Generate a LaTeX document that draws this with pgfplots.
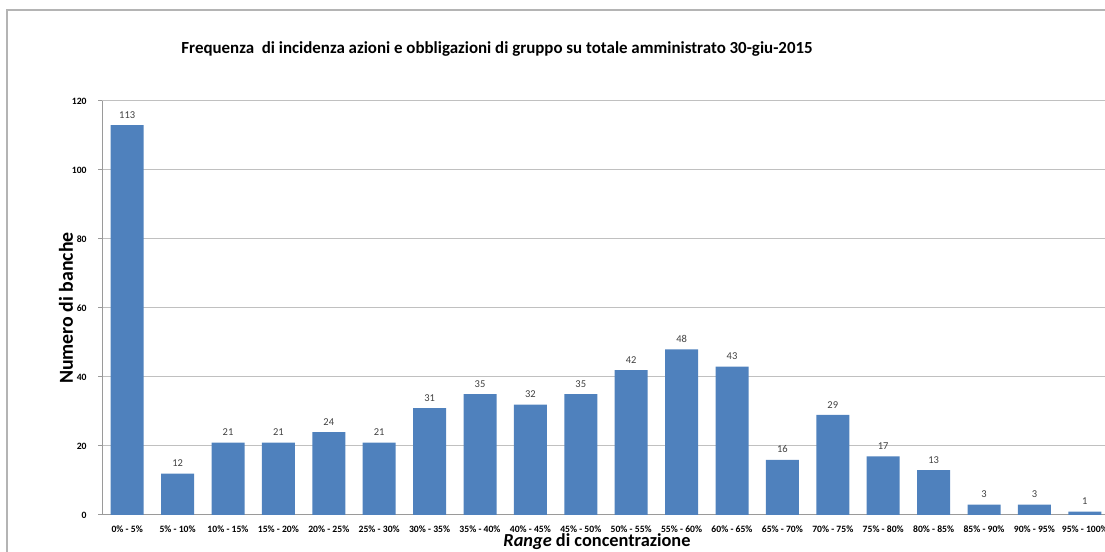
\documentclass[border=0pt]{standalone}
\usepackage{pgfplots}
\pgfplotsset{compat=1.18}
\usepackage{fontspec}
\setmainfont{Carlito}
\definecolor{barblue}{HTML}{4F81BD}
\definecolor{framegray}{HTML}{B4B4B4}
\definecolor{gridgray}{HTML}{C0C0C0}
\definecolor{labgray}{HTML}{404040}
\begin{document}
\begin{tikzpicture}
\useasboundingbox (0,0) rectangle (663pt,331.2pt);
\clip (0,0) rectangle (663pt,331.2pt);
\draw[framegray, line width=0.7pt] (4.2pt,-1pt) |- (664pt,325.2pt);
\begin{axis}[
  at={(61.2pt,22.2pt)}, anchor=south west,
  scale only axis, width=604.8pt, height=248.4pt,
  xmin=-0.5, xmax=19.5, ymin=0, ymax=120,
  enlargelimits=false,
  axis x line*=bottom, axis y line*=left,
  axis line style={gridgray!80!black, line width=0.6pt},
  ytick={0,20,...,120},
  ymajorgrids, grid style={gridgray, line width=0.6pt},
  xtick={0,...,19},
  xticklabels={0\% - 5\%,5\% - 10\%,10\% - 15\%,15\% - 20\%,20\% - 25\%,25\% - 30\%,30\% - 35\%,35\% - 40\%,40\% - 45\%,45\% - 50\%,50\% - 55\%,55\% - 60\%,60\% - 65\%,65\% - 70\%,70\% - 75\%,75\% - 80\%,80\% - 85\%,85\% - 90\%,90\% - 95\%,95\% - 100\%},
  x tick style={draw=none},
  y tick style={gridgray!80!black, line width=0.6pt},
  tick align=outside, major tick length=2.4pt,
  /pgf/number format/assume math mode=true,
  tick label style={font=\bfseries\fontsize{5.8}{6}\selectfont, text=black},
  yticklabel style={xshift=-3.3pt},
  xticklabel style={yshift=-0.8pt},
  nodes near coords,
  every node near coord/.append style={font=\fontsize{6.3}{7}\selectfont, text=labgray, yshift=0.5pt},
]
\addplot[ybar, bar width=19.8pt, fill=barblue, draw=none] coordinates {
(0,113) (1,12) (2,21) (3,21) (4,24) (5,21) (6,31) (7,35) (8,32) (9,35)
(10,42) (11,48) (12,43) (13,16) (14,29) (15,17) (16,13) (17,3) (18,3) (19,1)
};
\end{axis}
\node[font=\bfseries\fontsize{10.15}{12}\selectfont] at (298.2pt,301.8pt) {Frequenza\ \ di incidenza azioni e obbligazioni di gruppo su totale amministrato 30-giu-2015};
\node[font=\bfseries\fontsize{11.9}{14}\selectfont, rotate=90] at (39.6pt,146.4pt) {Numero di banche};
\node[font=\bfseries\fontsize{11}{13}\selectfont, anchor=base] at (358.2pt,3.2pt) {\textit{Range} di concentrazione};
\end{tikzpicture}
\end{document}
